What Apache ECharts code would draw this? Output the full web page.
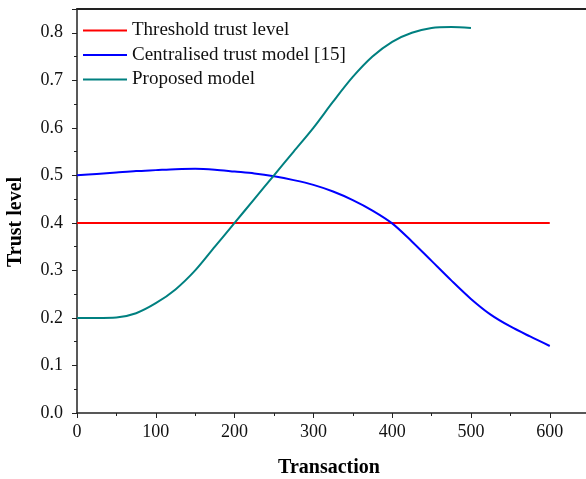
<!DOCTYPE html>
<html>
<head>
<meta charset="utf-8">
<script src="https://cdn.jsdelivr.net/npm/echarts@6/dist/echarts.min.js"></script>
<style>
  html, body { margin: 0; padding: 0; background: #fff; }
  #chart { width: 586px; height: 479px; }
</style>
</head>
<body>
<div id="chart"></div>
<script>
// x positions (transactions) and the three series
const transactions = [0, 25, 50, 75, 100, 125, 150, 175, 200, 225, 250, 275, 300,
  325, 350, 375, 400, 425, 450, 475, 500, 525, 550, 575, 600];
const thresholdX = [0, 600];
const thresholdLevel = [0.4, 0.4];
const centralised = [0.500, 0.503, 0.506, 0.509, 0.511, 0.513, 0.514, 0.512, 0.508,
  0.504, 0.498, 0.490, 0.480, 0.466, 0.448, 0.426, 0.399, 0.361, 0.320, 0.279,
  0.240, 0.207, 0.182, 0.161, 0.141];
const proposedX = [0, 25, 50, 75, 100, 125, 150, 175, 200, 225, 250, 275, 300,
  325, 350, 375, 400, 425, 450, 475, 500];
const proposed = [0.200, 0.200, 0.201, 0.210, 0.231, 0.260, 0.300, 0.350, 0.400,
  0.450, 0.500, 0.550, 0.600, 0.655, 0.707, 0.750, 0.781, 0.800, 0.810, 0.812, 0.810];
const seriesNames = ["Threshold trust level", "Centralised trust model [15]", "Proposed model"];

const zip = (xs, ys) => xs.map((x, i) => [x, ys[i]]);

const chart = echarts.init(document.getElementById("chart"));
const serif = "Liberation Serif";
const X_MAX = 646; // the frame runs past the right edge of the picture

chart.setOption({
  animation: false,
  grid: { left: 77, right: 0, top: 9, bottom: 66 },
  legend: {
    orient: "vertical",
    left: 83, top: 21, padding: 0,
    icon: "rect",
    itemWidth: 44, itemHeight: 2, itemGap: 5.5,
    textStyle: { fontFamily: serif, fontSize: 19, color: "#111" },
    data: seriesNames
  },
  xAxis: [
    {
      type: "value",
      min: 0, max: X_MAX, interval: 100,
      axisLine: { lineStyle: { color: "#222", width: 1.5 } },
      axisTick: { length: 5, lineStyle: { color: "#222" } },
      minorTick: { show: true, splitNumber: 2, length: 3, lineStyle: { color: "#222" } },
      splitLine: { show: false },
      axisLabel: { fontFamily: serif, fontSize: 18, color: "#111", margin: 10, showMaxLabel: false }
    },
    {
      // top frame line
      type: "value", position: "top",
      min: 0, max: X_MAX,
      axisLine: { show: true, lineStyle: { color: "#222", width: 2 } },
      axisTick: { show: false },
      axisLabel: { show: false },
      splitLine: { show: false }
    }
  ],
  yAxis: {
    type: "value",
    min: 0, max: 0.85, interval: 0.1,
    axisLine: { lineStyle: { color: "#222", width: 1.5 } },
    axisTick: { length: 5, lineStyle: { color: "#222" } },
    minorTick: { show: true, splitNumber: 2, length: 3, lineStyle: { color: "#222" } },
    splitLine: { show: false },
    axisLabel: {
      fontFamily: serif, fontSize: 18, color: "#111", margin: 14, showMaxLabel: false,
      formatter: v => v.toFixed(1)
    }
  },
  graphic: [
    {
      type: "text", x: 329, y: 468,
      style: {
        text: "Transaction", font: "bold 20px 'Liberation Serif'", fill: "#000",
        align: "center", verticalAlign: "middle"
      }
    },
    {
      type: "text", x: 16, y: 222, rotation: Math.PI / 2,
      style: {
        text: "Trust level", font: "bold 20px 'Liberation Serif'", fill: "#000",
        align: "center", verticalAlign: "middle"
      }
    }
  ],
  series: [
    {
      name: seriesNames[0], type: "line", symbol: "none",
      lineStyle: { color: "#ff0000", width: 2 }, itemStyle: { color: "#ff0000" },
      data: zip(thresholdX, thresholdLevel)
    },
    {
      name: seriesNames[1], type: "line", symbol: "none", smooth: 0.3,
      lineStyle: { color: "#0000ff", width: 2 }, itemStyle: { color: "#0000ff" },
      data: zip(transactions, centralised)
    },
    {
      name: seriesNames[2], type: "line", symbol: "none", smooth: 0.3,
      lineStyle: { color: "#008080", width: 2 }, itemStyle: { color: "#008080" },
      data: zip(proposedX, proposed)
    }
  ]
});
</script>
</body>
</html>
